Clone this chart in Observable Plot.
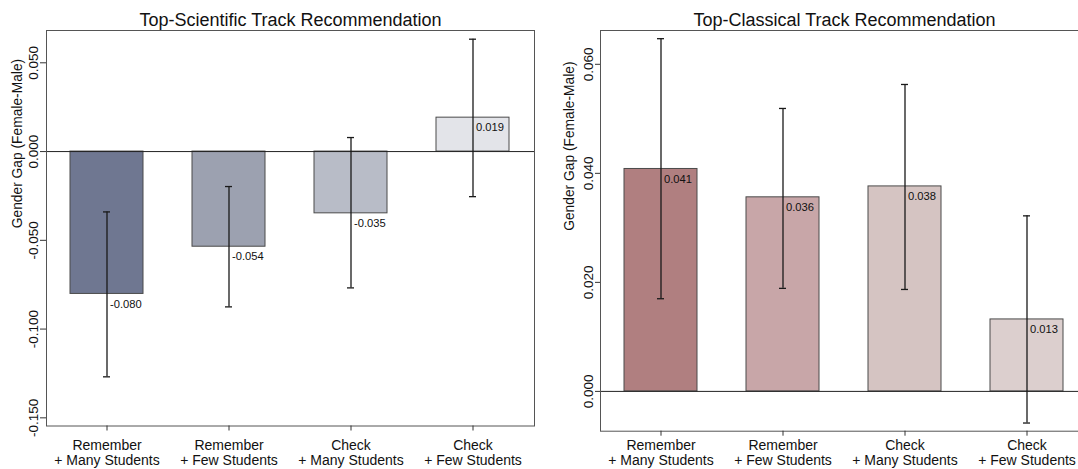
<!DOCTYPE html>
<html><head><meta charset="utf-8">
<script src="https://cdn.jsdelivr.net/npm/d3@7"></script>
<script src="https://cdn.jsdelivr.net/npm/@observablehq/plot@0.6"></script>
<style>
html,body{margin:0;padding:0;background:#fff;overflow:hidden;}
#wrap{position:relative;width:1078px;height:469px;overflow:hidden;background:#fff;}
#left{position:absolute;left:0;top:0;width:540px;height:469px;}
#right{position:absolute;left:554px;top:0;width:540px;height:469px;}
#wrap svg{max-width:none !important;}
</style></head>
<body><div id="wrap"><div id="left"></div><div id="right"></div></div>
<script>
const categories = ["Remember\n+ Many Students", "Remember\n+ Few Students", "Check\n+ Many Students", "Check\n+ Few Students"];
const yTitle = "Gender Gap (Female-Male)";

const sciTitle = "Top-Scientific Track Recommendation";
const sciValues = [-0.0802, -0.0536, -0.0348, 0.0191];
const sciLow = [-0.1269, -0.0875, -0.0768, -0.0254];
const sciHigh = [-0.0340, -0.0197, 0.0079, 0.0633];
const sciTicks = [0.05, 0, -0.05, -0.10, -0.15];
const sciColors = ["#6f7791", "#9ca1b0", "#b8bcc7", "#e3e4e9"];

const clsTitle = "Top-Classical Track Recommendation";
const clsValues = [0.0408, 0.0356, 0.0376, 0.0132];
const clsLow = [0.0170, 0.0189, 0.0187, -0.0058];
const clsHigh = [0.0647, 0.0519, 0.0563, 0.0322];
const clsTicks = [0, 0.02, 0.04, 0.06];
const clsColors = ["#b07f80", "#c8a6a8", "#d5c4c2", "#dccfce"];

const FONT = "'Liberation Sans', Arial, Helvetica, sans-serif";
const fmt = v => d3.format(".3f")(v).replace("\u2212", "-");

function panel({title, values, low, high, ticks, colors, domain, marginBottom, labelDx, tickSize, tickPadding, xPad}) {
  const rows = categories.map((c, i) => ({c, v: values[i], lo: low[i], hi: high[i]}));
  const ink = "#1a1a1a";
  return Plot.plot({
    width: 540, height: 469,
    marginLeft: 46, marginRight: 6, marginTop: 30, marginBottom,
    style: {fontFamily: FONT, fontSize: "13.5px", color: "#222", background: "white", overflow: "visible", maxWidth: "none"},
    x: {domain: categories, paddingInner: 0.4, paddingOuter: 0.2, label: null},
    y: {domain, label: null},
    color: {domain: categories, range: colors},
    marks: [
      Plot.barY(rows, {x: "c", y1: 0, y2: "v", fill: "c", stroke: "#4a4a4a", strokeWidth: 1}),
      Plot.ruleY([0], {stroke: "#222", strokeWidth: 1}),
      Plot.ruleX(rows, {x: "c", y1: "lo", y2: "hi", stroke: ink, strokeWidth: 1.3}),
      Plot.tickY(rows, {x: "c", y: "lo", stroke: ink, strokeWidth: 1.3, inset: 33}),
      Plot.tickY(rows, {x: "c", y: "hi", stroke: ink, strokeWidth: 1.3, inset: 33}),
      Plot.text(rows, {x: "c", y: "v", text: d => fmt(d.v), dx: 3, dy: 10, textAnchor: "start", fontSize: 11.2, fill: "#111"}),
      Plot.frame({stroke: "#555", strokeWidth: 1}),
      Plot.axisY({ticks, tickFormat: fmt, tickRotate: -90, tickSize, tickPadding, fontSize: 13.5, label: null, stroke: "#333", fill: "#111"}),
      Plot.axisX({tickSize: 5, tickPadding: xPad, fontSize: 14, lineHeight: 1.08, label: null, stroke: "#333", fill: "#111"}),
      Plot.text([yTitle], {text: d => d, frameAnchor: "left", rotate: -90, dx: labelDx, fontSize: 13.8, fill: "#111"}),
      Plot.text([title], {text: d => d, frameAnchor: "top", dy: -17, fontSize: 18, fill: "#111"})
    ]
  });
}

document.getElementById("left").append(panel({
  title: sciTitle, values: sciValues, low: sciLow, high: sciHigh, ticks: sciTicks, colors: sciColors,
  domain: [-0.1546, 0.0682], marginBottom: 43.5, labelDx: -29, tickSize: 6, tickPadding: 3, xPad: 8
}));
document.getElementById("right").append(panel({
  title: clsTitle, values: clsValues, low: clsLow, high: clsHigh, ticks: clsTicks, colors: clsColors,
  domain: [-0.0073, 0.0662], marginBottom: 38.3, labelDx: -31, tickSize: 5, tickPadding: 3, xPad: 3
}));
</script>
</body></html>
